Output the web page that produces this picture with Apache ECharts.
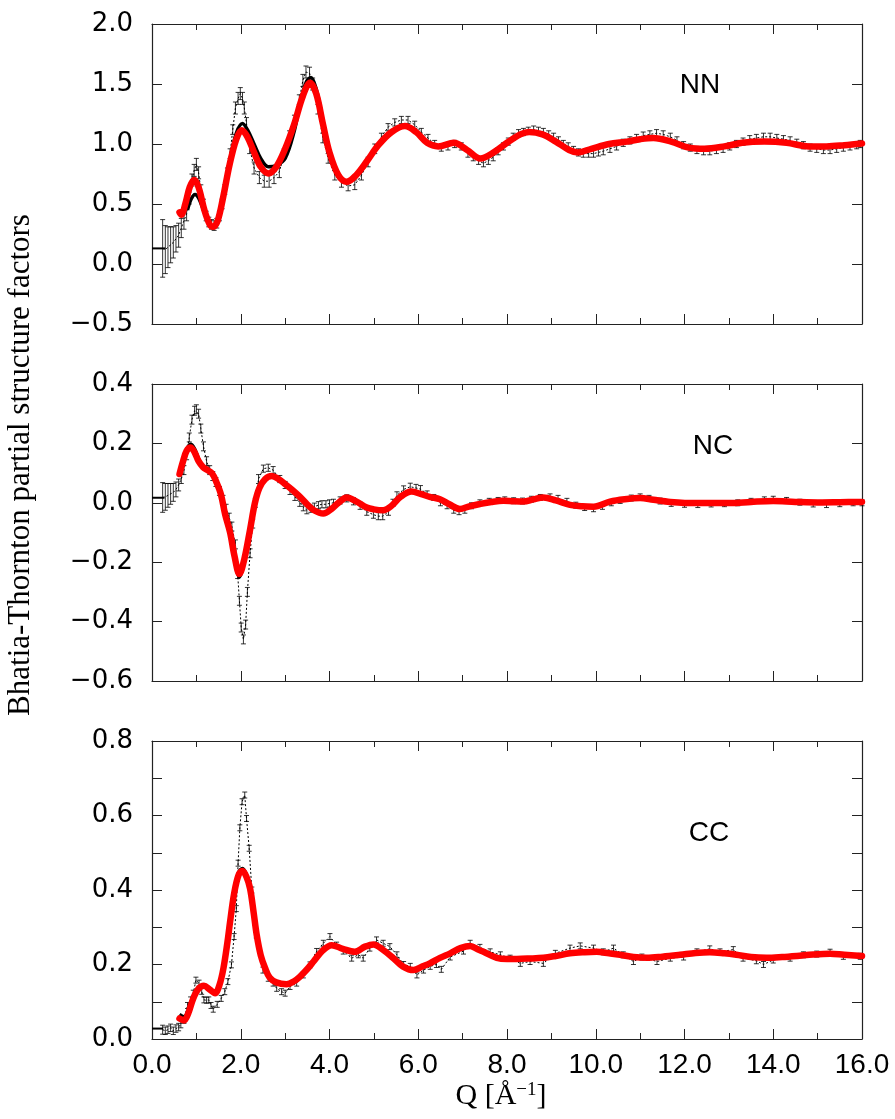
<!DOCTYPE html>
<html>
<head>
<meta charset="utf-8">
<script src="https://cdn.jsdelivr.net/npm/echarts@6/dist/echarts.min.js"></script>
<style>
  html, body { margin: 0; padding: 0; background: #fff; }
  #chart { width: 895px; height: 1119px; }
</style>
</head>
<body>
<div id="chart"></div>
<script>
// ---- Q axis ----
const qTicks = [0, 2, 4, 6, 8, 10, 12, 14, 16];

// ---- S_NN(Q): measured points [Q, S, error] ----
const nnExp = [
  [0.24,0.13,0.24],[0.30,0.12,0.20],[0.36,0.14,0.17],[0.42,0.16,0.15],[0.48,0.18,0.13],[0.54,0.21,0.11],
  [0.60,0.24,0.10],[0.66,0.30,0.08],[0.72,0.36,0.07],[0.78,0.42,0.06],[0.84,0.55,0.05],[0.90,0.70,0.05],
  [0.95,0.78,0.05],[1.00,0.83,0.05],[1.05,0.76,0.05],[1.10,0.62,0.04],[1.16,0.50,0.04],[1.22,0.40,0.04],
  [1.28,0.35,0.04],[1.34,0.33,0.04],[1.40,0.32,0.04],[1.46,0.34,0.04],[1.52,0.40,0.04],[1.58,0.50,0.04],
  [1.64,0.62,0.04],[1.70,0.76,0.04],[1.76,0.92,0.04],[1.82,1.12,0.04],[1.88,1.30,0.05],[1.94,1.38,0.05],
  [1.99,1.42,0.05],[2.04,1.38,0.05],[2.08,1.30,0.05],[2.13,1.17,0.05],[2.20,0.97,0.05],[2.30,0.80,0.05],
  [2.42,0.72,0.05],[2.53,0.69,0.05],[2.64,0.69,0.05],[2.75,0.72,0.05],[2.87,0.77,0.05],[2.98,0.92,0.04],
  [3.10,1.07,0.04],[3.21,1.20,0.04],[3.32,1.37,0.04],[3.40,1.53,0.05],[3.47,1.60,0.05],[3.55,1.59,0.05],
  [3.62,1.50,0.05],[3.74,1.29,0.04],[3.85,1.05,0.04],[3.97,0.88,0.04],[4.12,0.74,0.04],[4.27,0.68,0.04],
  [4.42,0.65,0.04],[4.57,0.66,0.04],[4.72,0.74,0.04],[4.87,0.85,0.04],[5.02,0.96,0.04],[5.17,1.06,0.03],
  [5.32,1.14,0.03],[5.47,1.18,0.03],[5.62,1.20,0.03],[5.77,1.20,0.03],[5.92,1.16,0.03],[6.07,1.10,0.03],
  [6.22,1.05,0.03],[6.37,1.00,0.03],[6.52,0.97,0.03],[6.67,0.98,0.03],[6.82,1.00,0.03],[6.97,0.98,0.03],
  [7.12,0.92,0.03],[7.24,0.89,0.03],[7.36,0.86,0.03],[7.47,0.84,0.03],[7.58,0.86,0.03],[7.69,0.89,0.03],
  [7.80,0.94,0.03],[7.92,0.98,0.03],[8.03,1.02,0.03],[8.14,1.06,0.03],[8.26,1.09,0.03],[8.37,1.10,0.03],
  [8.48,1.11,0.03],[8.60,1.12,0.03],[8.71,1.11,0.03],[8.82,1.10,0.03],[8.94,1.08,0.03],[9.05,1.06,0.03],
  [9.16,1.03,0.03],[9.27,1.00,0.03],[9.38,0.98,0.03],[9.50,0.95,0.03],[9.61,0.93,0.03],[9.72,0.92,0.03],
  [9.84,0.92,0.03],[9.95,0.92,0.03],[10.06,0.93,0.03],[10.17,0.94,0.03],[10.32,0.96,0.03],[10.47,0.98,0.03],
  [10.62,1.01,0.03],[10.77,1.03,0.03],[10.92,1.05,0.03],[11.07,1.07,0.03],[11.22,1.08,0.03],[11.37,1.09,0.03],
  [11.52,1.08,0.03],[11.68,1.06,0.03],[11.83,1.03,0.03],[11.98,0.99,0.03],[12.13,0.97,0.03],[12.28,0.95,0.03],
  [12.43,0.94,0.03],[12.57,0.94,0.03],[12.72,0.95,0.03],[12.87,0.96,0.03],[13.02,0.98,0.03],[13.17,1.00,0.03],
  [13.32,1.02,0.03],[13.47,1.04,0.03],[13.62,1.05,0.03],[13.78,1.06,0.03],[13.93,1.06,0.03],[14.08,1.05,0.03],
  [14.23,1.04,0.03],[14.38,1.03,0.03],[14.53,1.01,0.03],[14.68,0.99,0.03],[14.83,0.97,0.03],[14.98,0.96,0.03],
  [15.13,0.95,0.03],[15.28,0.95,0.03],[15.43,0.96,0.03],[15.58,0.97,0.03],[15.73,0.98,0.03],[15.88,0.99,0.03],
  [15.96,1.00,0.03]
];
// S_NN(Q): fitted curve (red)
const nnFit = [
  [0.62,0.43],[0.66,0.41],[0.75,0.50],[0.85,0.64],[0.95,0.70],[1.05,0.64],[1.18,0.45],[1.30,0.33],[1.38,0.31],
  [1.48,0.36],[1.60,0.55],[1.75,0.83],[1.90,1.04],[2.02,1.115],[2.15,1.06],[2.30,0.93],[2.45,0.81],[2.62,0.755],
  [2.80,0.81],[3.00,0.96],[3.20,1.16],[3.40,1.40],[3.56,1.51],[3.70,1.42],[3.85,1.17],[4.00,0.93],[4.20,0.74],
  [4.39,0.685],[4.60,0.74],[4.85,0.86],[5.10,0.99],[5.40,1.10],[5.70,1.15],[5.95,1.10],[6.20,1.01],[6.45,0.98],
  [6.80,1.01],[7.10,0.95],[7.40,0.88],[7.70,0.93],[8.00,1.01],[8.30,1.08],[8.50,1.10],[8.80,1.08],[9.10,1.02],
  [9.40,0.95],[9.60,0.93],[9.90,0.96],[10.30,1.00],[10.70,1.02],[11.00,1.04],[11.30,1.05],[11.70,1.02],
  [12.10,0.97],[12.45,0.96],[12.90,0.98],[13.30,1.01],[13.80,1.02],[14.30,1.01],[14.80,0.98],[15.20,0.98],
  [15.60,0.99],[16.00,1.005]
];
// S_NN(Q): model curve (black), low-Q part where it departs from the fit
const nnModelLow = [
  [0.80,0.45],[0.88,0.54],[0.97,0.58],[1.05,0.55],[1.18,0.43],[1.30,0.33],[1.38,0.31],[1.48,0.36],[1.60,0.56],
  [1.75,0.86],[1.90,1.09],[2.04,1.17],[2.15,1.12],[2.30,1.00],[2.45,0.88],[2.62,0.81],[2.80,0.82],[3.00,0.88],
  [3.20,1.10],[3.35,1.36],[3.48,1.52],[3.58,1.555],[3.70,1.46],[3.85,1.20],[4.00,0.95]
];
const nnS0 = [[0, 0.13], [0.30, 0.13]];

// ---- S_NC(Q) ----
const ncExp = [
  [0.24,0.018,0.05],[0.30,0.02,0.045],[0.36,0.025,0.04],[0.42,0.03,0.035],[0.48,0.035,0.03],[0.54,0.045,0.025],
  [0.60,0.06,0.02],[0.66,0.08,0.015],[0.72,0.11,0.015],[0.78,0.16,0.015],[0.84,0.22,0.015],[0.90,0.28,0.015],
  [0.96,0.31,0.015],[1.00,0.315,0.015],[1.05,0.30,0.015],[1.10,0.25,0.015],[1.16,0.19,0.015],[1.23,0.14,0.015],
  [1.30,0.11,0.015],[1.37,0.09,0.015],[1.44,0.07,0.015],[1.52,0.04,0.015],[1.60,0.01,0.015],[1.67,-0.02,0.015],
  [1.74,-0.05,0.015],[1.80,-0.08,0.015],[1.88,-0.14,0.015],[1.93,-0.24,0.015],[1.97,-0.33,0.015],[2.01,-0.42,0.015],
  [2.06,-0.46,0.015],[2.11,-0.41,0.015],[2.15,-0.30,0.015],[2.21,-0.17,0.015],[2.27,-0.07,0.015],[2.33,0.00,0.015],
  [2.40,0.08,0.015],[2.51,0.115,0.012],[2.62,0.118,0.012],[2.73,0.11,0.012],[2.88,0.08,0.012],[3.00,0.06,0.012],
  [3.11,0.04,0.012],[3.22,0.02,0.012],[3.33,0.00,0.012],[3.41,-0.015,0.012],[3.49,-0.025,0.012],[3.58,-0.02,0.012],
  [3.66,-0.013,0.012],[3.75,-0.008,0.012],[3.83,-0.005,0.012],[3.92,-0.005,0.012],[4.00,-0.002,0.012],[4.09,0.0,0.012],
  [4.24,0.008,0.012],[4.39,0.015,0.012],[4.54,0.005,0.012],[4.69,-0.01,0.012],[4.84,-0.03,0.012],[4.99,-0.04,0.012],
  [5.10,-0.045,0.012],[5.20,-0.045,0.012],[5.33,-0.03,0.012],[5.43,0.0,0.012],[5.52,0.025,0.012],[5.67,0.045,0.012],
  [5.82,0.054,0.012],[5.95,0.05,0.012],[6.05,0.046,0.012],[6.20,0.03,0.01],[6.35,0.018,0.01],[6.50,0.0,0.01],
  [6.65,-0.01,0.01],[6.80,-0.025,0.01],[6.92,-0.03,0.01],[7.05,-0.025,0.01],[7.20,-0.01,0.01],[7.39,0.0,0.01],
  [7.60,0.005,0.01],[7.80,0.008,0.01],[7.95,0.01,0.01],[8.15,0.007,0.01],[8.35,0.006,0.01],[8.55,0.012,0.01],
  [8.75,0.018,0.01],[8.97,0.02,0.01],[9.15,0.015,0.01],[9.35,0.005,0.01],[9.55,-0.008,0.01],[9.75,-0.016,0.01],
  [9.95,-0.02,0.01],[10.15,-0.012,0.01],[10.35,0.0,0.01],[10.55,0.008,0.01],[10.80,0.016,0.01],[11.00,0.02,0.01],
  [11.20,0.015,0.01],[11.45,0.006,0.01],[11.70,-0.002,0.01],[12.00,-0.005,0.01],[12.30,-0.006,0.01],[12.60,-0.004,0.01],
  [12.90,-0.003,0.01],[13.20,0.0,0.01],[13.50,0.005,0.01],[13.80,0.01,0.01],[14.00,0.012,0.01],[14.30,0.008,0.01],
  [14.60,0.002,0.01],[14.90,-0.004,0.01],[15.20,-0.006,0.01],[15.50,-0.003,0.01],[15.80,0.0,0.01],[16.00,0.0,0.01]
];
const ncFit = [
  [0.62,0.097],[0.70,0.14],[0.78,0.175],[0.87,0.186],[0.96,0.17],[1.05,0.14],[1.15,0.12],[1.25,0.11],[1.35,0.10],
  [1.45,0.07],[1.55,0.03],[1.65,-0.04],[1.76,-0.10],[1.86,-0.18],[1.97,-0.24],[2.08,-0.19],[2.21,-0.09],[2.32,0.0],
  [2.42,0.05],[2.55,0.08],[2.70,0.09],[2.85,0.08],[3.00,0.063],[3.15,0.045],[3.30,0.025],[3.49,-0.004],[3.65,-0.025],
  [3.86,-0.036],[4.05,-0.02],[4.20,0.0],[4.39,0.018],[4.60,0.005],[4.84,-0.016],[5.00,-0.022],[5.21,-0.025],
  [5.40,-0.01],[5.60,0.02],[5.85,0.038],[6.05,0.03],[6.26,0.02],[6.49,0.012],[6.70,-0.005],[6.94,-0.021],
  [7.15,-0.012],[7.39,-0.004],[7.65,0.003],[7.92,0.007],[8.15,0.005],[8.37,0.004],[8.60,0.012],[8.82,0.018],
  [9.10,0.008],[9.42,-0.007],[9.70,-0.012],[9.95,-0.013],[10.32,0.004],[10.65,0.012],[11.00,0.016],[11.30,0.01],
  [11.68,0.003],[12.28,-0.001],[13.03,-0.001],[13.50,0.003],[14.00,0.006],[14.50,0.003],[15.10,0.001],[15.50,0.002],
  [16.00,0.003]
];
const ncModelLow = [
  [0.66,0.12],[0.72,0.15],[0.80,0.185],[0.87,0.197],[0.96,0.182],[1.05,0.148],[1.15,0.122],[1.25,0.11],[1.35,0.10],
  [1.45,0.07],[1.55,0.03],[1.65,-0.04],[1.76,-0.105],[1.86,-0.19],[1.97,-0.249],[2.08,-0.195],[2.21,-0.09],
  [2.32,0.0],[2.42,0.05]
];
const ncS0 = [[0, 0.017], [0.28, 0.017]];

// ---- S_CC(Q) ----
const ccExp = [
  [0.24,0.025,0.012],[0.30,0.022,0.01],[0.36,0.025,0.01],[0.42,0.03,0.01],[0.48,0.022,0.01],[0.54,0.028,0.01],
  [0.60,0.032,0.01],[0.65,0.04,0.01],[0.72,0.05,0.008],[0.80,0.09,0.008],[0.87,0.105,0.008],[0.93,0.123,0.008],
  [0.99,0.158,0.008],[1.06,0.15,0.008],[1.12,0.128,0.008],[1.17,0.105,0.008],[1.23,0.104,0.008],[1.28,0.105,0.008],
  [1.33,0.09,0.008],[1.38,0.08,0.008],[1.47,0.093,0.008],[1.56,0.109,0.008],[1.64,0.127,0.008],[1.71,0.154,0.008],
  [1.79,0.199,0.008],[1.85,0.275,0.008],[1.90,0.35,0.008],[1.94,0.472,0.008],[1.98,0.567,0.008],[2.03,0.637,0.008],
  [2.09,0.655,0.008],[2.13,0.592,0.008],[2.19,0.512,0.008],[2.25,0.40,0.008],[2.35,0.279,0.008],[2.50,0.185,0.008],
  [2.62,0.163,0.008],[2.73,0.15,0.008],[2.81,0.136,0.008],[2.92,0.127,0.008],[3.00,0.123,0.008],[3.11,0.141,0.008],
  [3.26,0.15,0.008],[3.41,0.172,0.008],[3.56,0.199,0.008],[3.71,0.235,0.008],[3.86,0.257,0.008],[4.01,0.275,0.008],
  [4.16,0.252,0.008],[4.31,0.236,0.008],[4.50,0.217,0.008],[4.65,0.226,0.008],[4.76,0.217,0.008],[4.91,0.244,0.008],
  [5.06,0.266,0.008],[5.21,0.257,0.008],[5.36,0.248,0.008],[5.52,0.226,0.008],[5.67,0.20,0.008],[5.82,0.195,0.008],
  [5.97,0.172,0.008],[6.12,0.185,0.008],[6.27,0.195,0.008],[6.41,0.20,0.008],[6.52,0.187,0.008],[6.72,0.22,0.008],
  [7.02,0.236,0.008],[7.17,0.257,0.008],[7.39,0.246,0.008],[7.62,0.234,0.008],[7.85,0.226,0.008],[8.07,0.217,0.008],
  [8.30,0.203,0.008],[8.52,0.208,0.008],[8.82,0.203,0.008],[9.09,0.23,0.008],[9.42,0.244,0.008],[9.65,0.25,0.008],
  [9.95,0.244,0.008],[10.17,0.234,0.008],[10.40,0.244,0.008],[10.62,0.226,0.008],[10.85,0.208,0.008],[11.04,0.22,0.008],
  [11.38,0.208,0.008],[11.68,0.217,0.008],[11.98,0.22,0.008],[12.28,0.234,0.008],[12.57,0.242,0.008],[12.80,0.234,0.008],
  [13.10,0.24,0.008],[13.32,0.217,0.008],[13.62,0.21,0.008],[13.78,0.20,0.008],[14.00,0.212,0.008],[14.38,0.217,0.008],
  [14.68,0.226,0.008],[14.98,0.228,0.008],[15.28,0.233,0.008],[15.58,0.222,0.008],[15.96,0.222,0.008]
];
const ccFit = [
  [0.62,0.055],[0.72,0.05],[0.82,0.07],[0.93,0.109],[1.05,0.135],[1.17,0.143],[1.30,0.133],[1.42,0.123],[1.52,0.145],
  [1.61,0.19],[1.70,0.26],[1.76,0.315],[1.85,0.39],[1.95,0.44],[2.04,0.451],[2.13,0.435],[2.21,0.404],[2.29,0.34],
  [2.36,0.279],[2.45,0.225],[2.55,0.19],[2.65,0.165],[2.80,0.152],[3.03,0.147],[3.20,0.155],[3.33,0.167],[3.50,0.188],
  [3.64,0.208],[3.85,0.238],[4.05,0.252],[4.30,0.242],[4.57,0.234],[4.80,0.248],[4.99,0.254],[5.20,0.24],[5.44,0.217],
  [5.65,0.195],[5.89,0.185],[6.10,0.195],[6.26,0.203],[6.49,0.218],[6.72,0.23],[6.95,0.244],[7.17,0.25],[7.35,0.24],
  [7.47,0.234],[7.77,0.218],[8.00,0.215],[8.22,0.215],[8.50,0.216],[8.82,0.218],[9.10,0.223],[9.42,0.23],[9.75,0.233],
  [10.02,0.234],[10.30,0.23],[10.55,0.226],[10.85,0.22],[11.15,0.218],[11.50,0.221],[11.90,0.226],[12.25,0.231],
  [12.57,0.233],[12.90,0.23],[13.17,0.226],[13.50,0.22],[13.85,0.218],[14.20,0.22],[14.53,0.223],[14.90,0.227],
  [15.28,0.229],[15.60,0.226],[16.00,0.223]
];
const ccModelLow = [
  [0.62,0.066],[0.72,0.06],[0.82,0.078],[0.93,0.115],[1.05,0.138],[1.17,0.145],[1.30,0.135],[1.42,0.125],[1.52,0.147],
  [1.61,0.193],[1.70,0.265],[1.76,0.32],[1.85,0.395],[1.95,0.447],[2.04,0.458],[2.13,0.44],[2.21,0.405]
];
const ccS0 = [[0, 0.028], [0.25, 0.028]];

// Black model curve: its own low-Q branch, then it runs on top of the fit.
function joinModel(low, fit) {
  const qEnd = low[low.length - 1][0];
  return low.concat(fit.filter(p => p[0] > qEnd + 0.05));
}

const panels = [
  { label: 'NN', exp: nnExp, fit: nnFit, model: joinModel(nnModelLow, nnFit), s0: nnS0,
    yMin: -0.5, yMax: 2.0, yStep: 0.5, yMinor: false, top: 24, height: 300, labelPos: [700, 85] },
  { label: 'NC', exp: ncExp, fit: ncFit, model: joinModel(ncModelLow, ncFit), s0: ncS0,
    yMin: -0.6, yMax: 0.4, yStep: 0.2, yMinor: false, top: 384, height: 297, labelPos: [713, 446] },
  { label: 'CC', exp: ccExp, fit: ccFit, model: joinModel(ccModelLow, ccFit), s0: ccS0,
    yMin: 0.0, yMax: 0.8, yStep: 0.2, yMinor: true, top: 741, height: 298, labelPos: [709, 833] }
];

const frameColor = '#222';

function fmt(v) {
  const r = Math.round(v * 10) / 10;
  return (r < 0 ? '\u2212' : '') + Math.abs(r).toFixed(1);
}

function errorBar(params, api) {
  const q = api.value(0), v = api.value(1), e = api.value(2);
  const hi = api.coord([q, v + e]);
  const lo = api.coord([q, v - e]);
  const w = 2.5;
  const style = { stroke: '#000', lineWidth: 0.8 };
  return {
    type: 'group',
    children: [
      { type: 'line', shape: { x1: hi[0], y1: hi[1], x2: lo[0], y2: lo[1] }, style },
      { type: 'line', shape: { x1: hi[0] - w, y1: hi[1], x2: hi[0] + w, y2: hi[1] }, style },
      { type: 'line', shape: { x1: lo[0] - w, y1: lo[1], x2: lo[0] + w, y2: lo[1] }, style }
    ]
  };
}

const grid = [], xAxis = [], yAxis = [], series = [], graphic = [];

panels.forEach((p, i) => {
  const last = i === panels.length - 1;
  grid.push({ left: 152, right: 33, top: p.top, height: p.height, containLabel: false });

  const xBase = {
    type: 'value', gridIndex: i, min: qTicks[0], max: qTicks[qTicks.length - 1], interval: 2,
    axisLine: { show: true, onZero: false, lineStyle: { color: frameColor, width: 1.2 } },
    axisTick: { show: true, inside: true, length: 10, lineStyle: { color: frameColor, width: 1 } },
    minorTick: { show: true, splitNumber: 2, length: 6, lineStyle: { color: frameColor, width: 1 } },
    splitLine: { show: false }, minorSplitLine: { show: false }
  };
  xAxis.push(Object.assign({}, xBase, {
    position: 'bottom',
    axisLabel: {
      show: last, formatter: v => v.toFixed(1), margin: 12,
      fontFamily: '"Liberation Sans", Arial, sans-serif', fontSize: 28, color: '#000',
      showMinLabel: true, showMaxLabel: true
    }
  }));
  xAxis.push(Object.assign({}, xBase, { position: 'top', axisLabel: { show: false } }));

  const yBase = {
    type: 'value', gridIndex: i, min: p.yMin, max: p.yMax, interval: p.yStep,
    axisLine: { show: true, onZero: false, lineStyle: { color: frameColor, width: 1.2 } },
    axisTick: { show: true, inside: true, length: 10, lineStyle: { color: frameColor, width: 1 } },
    minorTick: { show: p.yMinor, splitNumber: 2, length: 10, lineStyle: { color: frameColor, width: 1 } },
    splitLine: { show: false }, minorSplitLine: { show: false }
  };
  yAxis.push(Object.assign({}, yBase, {
    position: 'left',
    axisLabel: {
      show: true, formatter: fmt, margin: 19,
      fontFamily: '"DejaVu Sans", sans-serif', fontSize: 26, color: '#000',
      showMinLabel: true, showMaxLabel: true
    }
  }));
  yAxis.push(Object.assign({}, yBase, { position: 'right', axisLabel: { show: false } }));

  const xi = i * 2, yi = i * 2;

  // measured data: dotted connecting line and error bars
  series.push({
    type: 'line', xAxisIndex: xi, yAxisIndex: yi, data: p.exp.map(d => [d[0], d[1]]),
    showSymbol: false, z: 2, silent: true,
    lineStyle: { color: '#000', width: 1, type: [2, 2] }
  });
  series.push({
    type: 'custom', xAxisIndex: xi, yAxisIndex: yi, data: p.exp,
    encode: { x: 0, y: 1 }, renderItem: errorBar, z: 2, silent: true
  });
  // S(0) limit segment
  series.push({
    type: 'line', xAxisIndex: xi, yAxisIndex: yi, data: p.s0, showSymbol: false, z: 3,
    lineStyle: { color: '#000', width: 2 }
  });
  // model curve (black)
  series.push({
    type: 'line', xAxisIndex: xi, yAxisIndex: yi, data: p.model, showSymbol: false, smooth: 0.35, z: 3,
    lineStyle: { color: '#000', width: 3.5 }
  });
  // fitted curve (red)
  series.push({
    type: 'line', xAxisIndex: xi, yAxisIndex: yi, data: p.fit, showSymbol: false, smooth: 0.35, z: 4,
    lineStyle: { color: '#ff0000', width: 6.5, cap: 'round', join: 'round' }
  });

  graphic.push({
    type: 'text', x: p.labelPos[0], y: p.labelPos[1], z: 10,
    style: { text: p.label, font: '28px "Liberation Sans", Arial, sans-serif', fill: '#000',
             align: 'center', verticalAlign: 'middle' }
  });
});

// axis titles
graphic.push({
  type: 'text', x: 21, y: 465, rotation: Math.PI / 2, z: 10,
  style: { text: 'Bhatia-Thornton partial structure factors',
           font: '31px "Liberation Serif", "DejaVu Serif", serif', fill: '#000',
           align: 'center', verticalAlign: 'middle' }
});
graphic.push({
  type: 'text', x: 501, y: 1096, z: 10,
  style: {
    text: '{main|Q [Å}{sup|\u22121}{main|]}',
    fill: '#000', align: 'center', verticalAlign: 'middle',
    rich: {
      main: { font: '30px "Liberation Serif", "DejaVu Serif", serif', fill: '#000', verticalAlign: 'bottom' },
      sup: { font: '19px "Liberation Serif", "DejaVu Serif", serif', fill: '#000', verticalAlign: 'top' }
    }
  }
});

const chart = echarts.init(document.getElementById('chart'), null, { renderer: 'canvas' });
chart.setOption({
  animation: false,
  backgroundColor: '#fff',
  grid, xAxis, yAxis, series, graphic
});
</script>
</body>
</html>
